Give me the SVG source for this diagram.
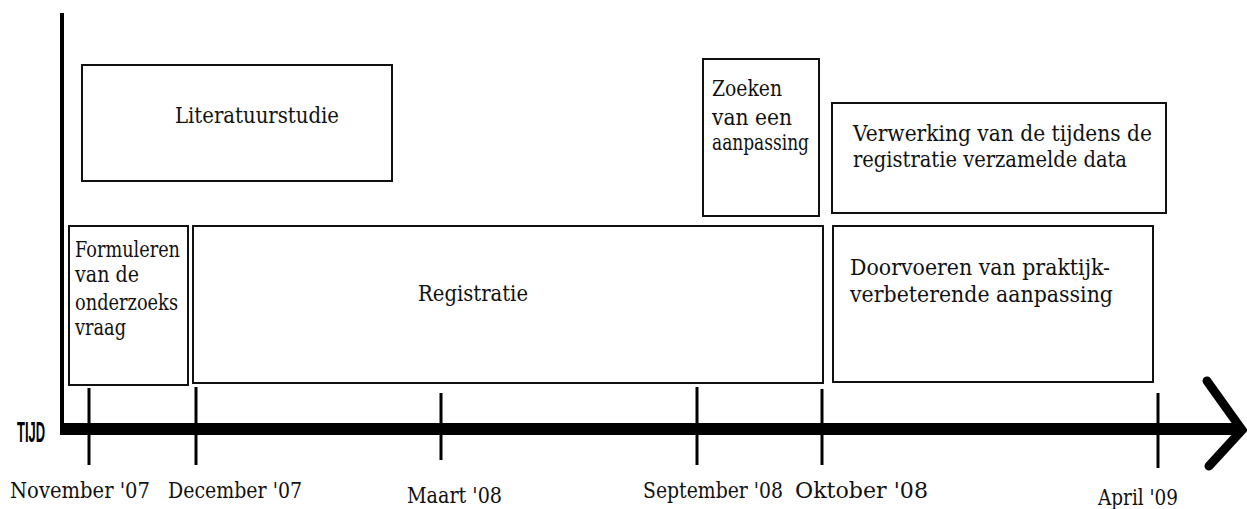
<svg xmlns="http://www.w3.org/2000/svg" width="1247" height="509" viewBox="0 0 1247 509">
<style>
.box{fill:#fff;stroke:#111;stroke-width:2}
text.t{font-family:'DejaVu Serif','Liberation Serif','Noto Serif',serif;font-size:22px;fill:#111}
.tick{stroke:#000;stroke-width:3}
</style>
<rect width="1247" height="509" fill="#fff"/>
<g id="connectors">
<line x1="62" y1="13" x2="62" y2="435" stroke="#000" stroke-width="4"/>
<line x1="60" y1="429" x2="1238" y2="429" stroke="#000" stroke-width="12"/>
<polyline points="1207,381 1242,430 1209,466" fill="none" stroke="#000" stroke-width="9" stroke-linecap="round" stroke-linejoin="miter"/>
<line class="tick" x1="89" y1="388" x2="89" y2="465"/>
<line class="tick" x1="196" y1="387" x2="196" y2="465"/>
<line class="tick" x1="441" y1="393" x2="441" y2="460"/>
<line class="tick" x1="697" y1="387" x2="697" y2="465"/>
<line class="tick" x1="822" y1="389" x2="822" y2="465"/>
<line class="tick" x1="1158" y1="393" x2="1158" y2="468"/>
</g>
<g id="axis-label">
<text x="17" y="442" font-family="'Liberation Sans Narrow','Liberation Sans',sans-serif" font-size="30" font-weight="bold" textLength="28" lengthAdjust="spacingAndGlyphs" fill="#000">TIJD</text>
</g>
<g id="dates">
<text class="t" x="10" y="498" textLength="140" lengthAdjust="spacingAndGlyphs">November '07</text>
<text class="t" x="168" y="498" textLength="134" lengthAdjust="spacingAndGlyphs">December '07</text>
<text class="t" x="407" y="503" textLength="95" lengthAdjust="spacingAndGlyphs">Maart '08</text>
<text class="t" x="643" y="498" textLength="140" lengthAdjust="spacingAndGlyphs">September '08</text>
<text class="t" x="795" y="498" textLength="133" lengthAdjust="spacingAndGlyphs">Oktober '08</text>
<text class="t" x="1098" y="505" textLength="80" lengthAdjust="spacingAndGlyphs">April '09</text>
</g>
<g id="literatuurstudie">
<rect class="box" x="82" y="65" width="310" height="116"/>
<text class="t" x="175" y="123" textLength="164" lengthAdjust="spacingAndGlyphs">Literatuurstudie</text>
</g>
<g id="formuleren">
<rect class="box" x="69" y="226" width="119" height="159"/>
<text class="t" x="75" y="257" textLength="105" lengthAdjust="spacingAndGlyphs">Formuleren</text>
<text class="t" x="75" y="282" textLength="64" lengthAdjust="spacingAndGlyphs">van de</text>
<text class="t" x="75" y="310" textLength="103" lengthAdjust="spacingAndGlyphs">onderzoeks</text>
<text class="t" x="75" y="335" textLength="51" lengthAdjust="spacingAndGlyphs">vraag</text>
</g>
<g id="registratie">
<rect class="box" x="193" y="226" width="630" height="157"/>
<text class="t" x="418" y="301" textLength="110" lengthAdjust="spacingAndGlyphs">Registratie</text>
</g>
<g id="zoeken">
<rect class="box" x="703" y="59" width="116" height="157"/>
<text class="t" x="712" y="96" textLength="70" lengthAdjust="spacingAndGlyphs">Zoeken</text>
<text class="t" x="712" y="125" textLength="80" lengthAdjust="spacingAndGlyphs">van een</text>
<text class="t" x="712" y="150" textLength="97" lengthAdjust="spacingAndGlyphs">aanpassing</text>
</g>
<g id="verwerking">
<rect class="box" x="832" y="103" width="334" height="110"/>
<text class="t" x="853" y="141" textLength="299" lengthAdjust="spacingAndGlyphs">Verwerking van de tijdens de</text>
<text class="t" x="853" y="167" textLength="274" lengthAdjust="spacingAndGlyphs">registratie verzamelde data</text>
</g>
<g id="doorvoeren">
<rect class="box" x="833" y="226" width="320" height="156"/>
<text class="t" x="850" y="275" textLength="260" lengthAdjust="spacingAndGlyphs">Doorvoeren van praktijk-</text>
<text class="t" x="850" y="302" textLength="263" lengthAdjust="spacingAndGlyphs">verbeterende aanpassing</text>
</g>
</svg>
